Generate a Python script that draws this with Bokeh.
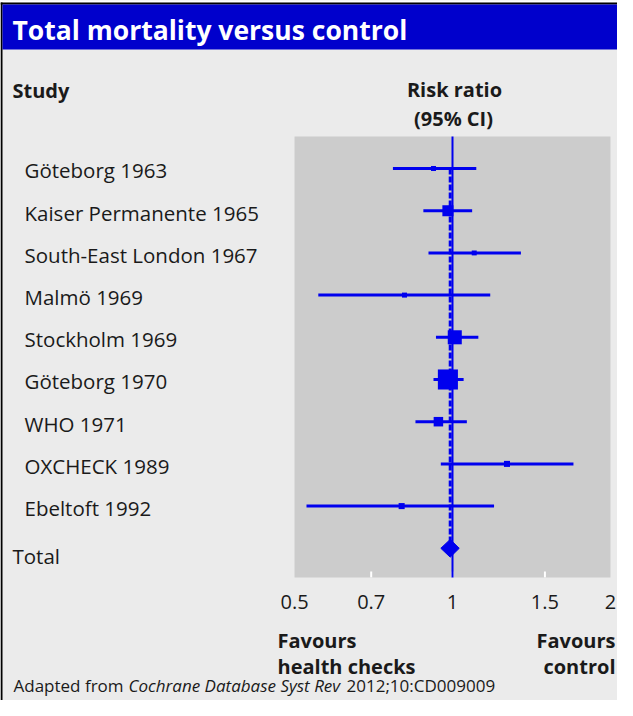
import numpy as np
from bokeh.plotting import figure
from bokeh.models import (ColumnDataSource, Range1d, Label, LabelSet, BoxAnnotation)
from bokeh.core.properties import value
from bokeh.embed import file_html
from bokeh.resources import INLINE

# ---------------- data ----------------
studies = ["Göteborg 1963", "Kaiser Permanente 1965", "South-East London 1967",
           "Malmö 1969", "Stockholm 1969", "Göteborg 1970", "WHO 1971",
           "OXCHECK 1989", "Ebeltoft 1992"]
risk_ratio = [0.92, 0.98, 1.10, 0.81, 1.01, 0.98, 0.94, 1.27, 0.80]
ci_low = [0.77, 0.88, 0.90, 0.555, 0.93, 0.92, 0.85, 0.95, 0.527]
ci_high = [1.11, 1.09, 1.35, 1.18, 1.12, 1.05, 1.065, 1.70, 1.20]
weight_pct = [2.6, 12.7, 2.6, 2.6, 20.5, 41.9, 9.4, 3.8, 3.8]
total_label = "Total"
total_rr, total_low, total_high = 0.99, 0.95, 1.03
tick_values = [0.5, 0.7, 1, 1.5, 2]
tick_labels = ["0.5", "0.7", "1", "1.5", "2"]
null_effect = 1

# ---------------- style / layout ----------------
FONT = "Open Sans"
BLUE = "#0000ee"
BAR_BLUE = "#0000cc"
TXT = "#1a1a1a"
W, H = 617, 700            # canvas = page (8..625, 8..708)
ROW_TOP, ROW_BOTTOM = -0.76, 9.69   # extent of the grey plotting panel, in rows

rows = list(range(len(studies)))
total_row = len(studies)

p = figure(width=W, height=H, x_axis_type="log",
           x_range=Range1d(0.13765, 2.0624), y_range=Range1d(12.607, -3.981),
           x_axis_location=None, y_axis_location=None,
           output_backend="svg", toolbar_location=None,
           min_border=0, background_fill_color="#ebebeb",
           border_fill_color="#ebebeb", outline_line_color=None)
p.grid.visible = False

# grey plotting panel, bounded by the axis range
p.add_layout(BoxAnnotation(left=tick_values[0], right=tick_values[-1],
                           top=ROW_TOP, bottom=ROW_BOTTOM, fill_color="#cccccc",
                           fill_alpha=1, line_color=None, level="underlay"))

# white tick marks inside the panel + tick labels
inner = tick_values[1:-1]
p.segment(x0=inner, x1=inner, y0=[ROW_BOTTOM] * len(inner),
          y1=[ROW_BOTTOM - 0.14] * len(inner), line_color="white", line_width=2)
p.text(x=tick_values, y=[ROW_BOTTOM] * len(tick_values), text=tick_labels,
       y_offset=25, text_align="center", text_baseline="alphabetic",
       text_font=value(FONT), text_font_size=value("20px"), text_color=TXT)

# line of no effect
p.segment(x0=[null_effect], x1=[null_effect], y0=[ROW_TOP], y1=[ROW_BOTTOM],
          line_color=BLUE, line_width=2)

src = ColumnDataSource(dict(study=studies, rr=risk_ratio, lo=ci_low, hi=ci_high,
                            row=rows, size=[3.1 * np.sqrt(w) for w in weight_pct]))

p.segment(x0="lo", x1="hi", y0="row", y1="row", source=src,
          line_color=BLUE, line_width=3)
p.scatter(x="rr", y="row", size="size", marker="square", source=src,
          fill_color=BLUE, line_color=None)

p.segment(x0=[total_rr], x1=[total_rr], y0=[rows[0]], y1=[total_row],
          line_color=BLUE, line_width=3, line_dash="6 2")
half_h = 0.21
p.patch(x=[total_low, total_rr, total_high, total_rr],
        y=[total_row, total_row - half_h, total_row, total_row + half_h],
        fill_color=BLUE, line_color=BLUE, line_width=1)

# ---------------- decorations (screen units; frame = whole canvas) ----------------
def sx(px):
    return px - 8

def sy(py):
    return 708 - py

def box(l, r, t, b, color):
    p.add_layout(BoxAnnotation(left=sx(l), right=sx(r), top=sy(t), bottom=sy(b),
                               left_units="screen", right_units="screen",
                               top_units="screen", bottom_units="screen",
                               fill_color=color, fill_alpha=1, line_color=None))

box(8, 700, 8, 10, "white")
box(8, 700, 10, 12, "black")
box(8, 10, 10, 900, "black")
box(10, 700, 12, 57, BAR_BLUE)

def label(text, x, y, size="20px", style="normal", align="left", color=TXT):
    p.add_layout(Label(x=sx(x), y=sy(y), x_units="screen", y_units="screen",
                       text=text, text_font=FONT, text_font_size=size,
                       text_font_style=style, text_align=align,
                       text_baseline="alphabetic", text_color=color))

label("Total mortality versus control", 20, 37, size="26.5px", style="bold", color="white")
label("Study", 20, 98, style="bold")
label("Risk ratio", 462, 97, style="bold", align="center")
label("(95% CI)", 461, 126, style="bold", align="center")
label("Favours", 285, 648, style="bold")
label("health checks", 285, 674, style="bold")
label("Favours", 623, 648, style="bold", align="right")
label("control", 623, 674, style="bold", align="right")
label("Adapted from", 21, 693, size="17px")
label("Cochrane Database Syst Rev", 136, 693, size="17px", style="italic")
label("2012;10:CD009009", 354, 693, size="17px")

p.add_layout(LabelSet(x=sx(32), y="row", text="study", source=src,
                      x_units="screen", y_units="data", y_offset=-10,
                      text_font=value(FONT), text_font_size=value("20.5px"),
                      text_color=TXT, text_baseline="alphabetic"))
p.add_layout(Label(x=sx(20), y=total_row, x_units="screen", y_units="data",
                   y_offset=-8, text=total_label, text_font=FONT,
                   text_font_size="20.5px", text_color=TXT,
                   text_baseline="alphabetic"))

open("out.html", "w").write(file_html(p, INLINE))
